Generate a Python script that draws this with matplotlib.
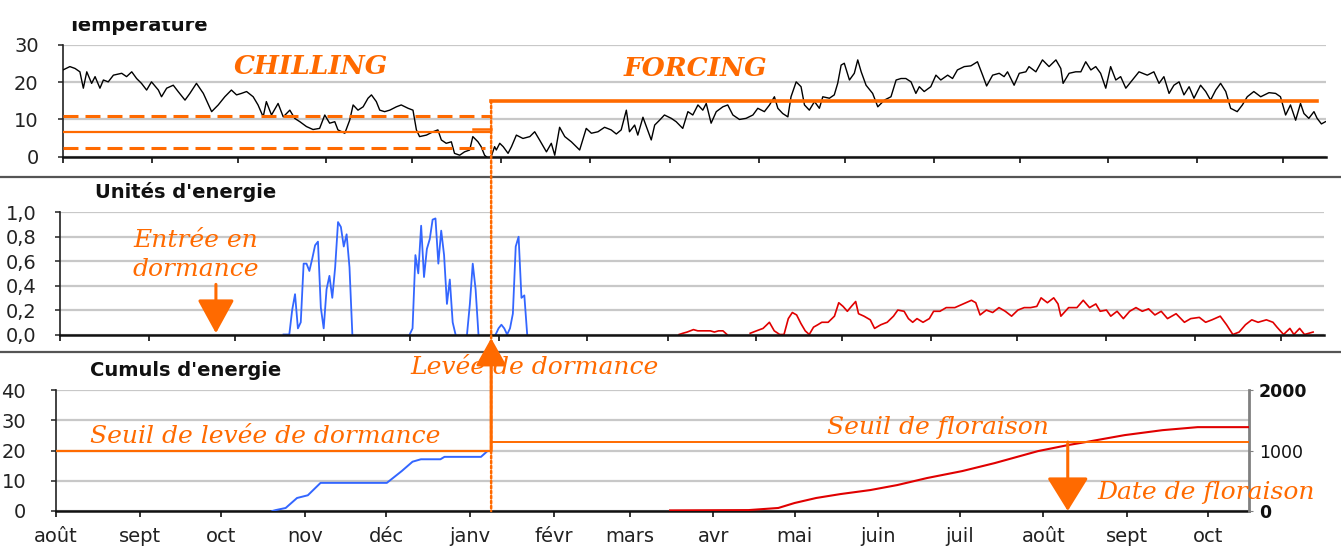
import matplotlib
matplotlib.use('Agg')
import matplotlib.pyplot as plt
import matplotlib.transforms as mtransforms
from matplotlib.patches import ConnectionPatch
from matplotlib.lines import Line2D
from matplotlib.ticker import FuncFormatter

NAN = float('nan')   # gap marker: breaks a line where the series is absent

# ------------------------------------------------------------------ data
# x axis: days counted from 1 August
month_days = [0, 31, 61, 92, 122, 153, 184, 212, 243, 273, 304, 334, 365, 396, 426]
month_labels = ['août', 'sept', 'oct', 'nov', 'déc', 'janv', 'févr', 'mars',
                'avr', 'mai', 'juin', 'juil', 'août', 'sept', 'oct']
x_end = 441

# daily temperature (°C)
temp_day = [0, 2.4, 4.2, 5.9, 7.1, 8.3, 10, 11.2, 12.9, 14.1, 15.8, 17.6, 20.5, 22.2, 24,
            25.7, 27.4, 29.2, 30.9, 33.3, 34.4, 36.2, 38.5, 40.2, 42.6, 44.3, 46.6, 49,
            51.9, 54.2, 56.5, 58.8, 60.6, 62.3, 64.1, 66.4, 68.1, 69.9, 71, 72.8, 75.1,
            76.9, 79.2, 80.9, 82.7, 85, 87.3, 89.6, 91.4, 93.1, 94.9, 96, 98.4, 100.1,
            101.3, 103, 104.8, 106.5, 107.7, 109.4, 110.6, 112.3, 114.1, 116.4, 118.1,
            120.5, 122.2, 123.4, 124.5, 126.9, 129.2, 130.9, 132.1, 133.8, 135.6, 136.7,
            138.5, 140.2, 142, 143.1, 144.9, 146, 147.2, 148.4, 149.5, 150.7,
            151.3, 152.5, 153.7, 155.4, 156.6, 158.3, 160.6, 163, 164.7, 166.4, 168.8,
            170.5, 171.7, 173.4, 175.2, 177.5, 180.4, 182.7, 184.5, 186.8, 189.1, 191.4,
            193.2, 194.9, 196.7, 197.8, 199.6, 200.7, 202.5, 203.7, 205.4, 206.6, 208.3,
            210, 212.4, 214.1, 216.4, 218.2, 219.9, 221.7, 223.4, 224.6, 226.3, 228.1,
            230.4, 232.1, 233.9, 236.2, 238.5, 240.9, 242.6, 244.9, 246.7, 248.4, 249.6,
            251.3, 253.1, 254.2, 256, 257.7, 258.9, 260.6, 262.4, 264.1, 265.3, 267.6,
            269.3, 270.5, 271.7, 272.8, 274.6, 276.3, 277.5, 278.7, 280.4, 282.7, 284.5,
            286.8, 289.1, 290.9, 292.6,
            294.3, 296.1, 297.8, 299, 300.7, 303, 304.8, 306.5, 308.9, 310.6, 312.3,
            314.7, 317, 319.3, 321.1, 322.5, 324.6, 326.9, 328.6, 329.8, 332.1, 333.9,
            336.2, 337.3, 339.7, 342, 344.3, 346.7, 348.4, 349.2, 351.3, 353.6, 355.4,
            357.1, 358.9, 360.6, 362.3, 364.1, 365.8, 367.6, 369.3, 371.1, 373.4, 375.7,
            378.6, 380.9, 382.7, 384.4, 386.2, 387.9, 389.7, 391.4, 393.2, 394.9, 397.2,
            399, 400.7, 402.5, 404.2, 406, 407.7, 410, 411.8, 413.5, 415.8, 418.2, 421.1,
            423.4, 425.1, 426.9, 428.6, 430.4, 432.1, 433.3, 435, 436.8, 437.9, 439.4, 440.8]
temp_val = [23.3, 24.2, 23.7, 22.8, 18.4, 22.8, 19.7, 21.5, 18.4, 20.6, 20.1, 21.9, 22.4, 21.5, 22.8,
            21, 19.7, 17.9, 20.1, 17.9, 16.1, 18.4, 19.2, 17.5, 15.2, 17, 19.7, 17,
            12.1, 13.9, 16.1, 17.9, 16.6, 17, 17.5, 16.1, 13.9, 10.7, 14.8, 11.2, 14.3,
            10.7, 12.5, 10.3, 9.4, 8.1, 7.3, 7.6, 11.2, 9, 9.4, 7.2, 6.3, 9.8,
            13.9, 12.5, 13.4, 15.7, 16.6, 14.8, 12.5, 12.1, 12.5, 13.4, 13.9,
            13, 12.5, 7.2, 5.4, 5.8, 6.7, 7.2, 4.5, 3.6, 4, 0.9,
            0.4, 1.3, 1.8, 5.4, 4, 2.7, 0.4, -0.4, 0, 2.7,
            1.8, 3.6, 2.7, 0.9, 2.7, 5.8, 4.9, 5.4, 6.7, 4.5, 1.3,
            3.6, 0.4, 7.9, 5.4, 4, 1.8, 7.6, 6.3, 6.7, 7.9, 7.2,
            6.1, 7.2, 12.5, 6.7, 8.5, 5.8, 10.6, 8.1, 4.5, 8.5, 9.8,
            11.2, 10.3, 9.4, 7.6, 12.1, 11.2, 13.9, 12.5, 14.3, 9, 12.1,
            13.4, 13.9, 11.2, 10, 10.3, 11.2, 13, 12.1, 13.9, 16.1, 13,
            11.6, 10.7, 16.1, 20.1, 18.8, 13.9, 12.5, 14.8, 13, 16.1, 15.7,
            16.6, 19.7, 24.6, 25.1, 20.6, 22.4, 26, 22.8, 19.2, 17, 13.4,
            15.2, 16.1, 20.6, 21,
            21, 20.1, 17, 18.8, 17.5, 18.8, 21.9, 20.6, 21.9, 21, 23.3,
            24.2, 24.4, 25.5, 21.9, 19, 21.9, 22.4, 21.5, 22.8, 19.2, 22.4,
            22.8, 24.2, 22.8, 26, 24.2, 26, 23.7, 19.7, 22.4, 22.8, 22.8,
            25.5, 23.3, 24.2, 22.4, 18.4, 24.2, 20.6, 21.5, 18.4, 20.6, 22.8,
            21.9, 22.8, 19.7, 21.5, 17, 19.2, 20.1, 16.6, 18.8, 15.7, 19.2,
            17.5, 15.2, 17.9, 19.7, 17.5, 13, 12.1, 13.9, 16.1, 17.5, 16.1, 17.2,
            17, 16.1, 11.2, 13.9, 9.8, 14.3, 11.6, 10.3, 12.1, 10.3, 8.8, 9.4]

# chilling / forcing reference levels (°C)
chill_high = 10.85
chill_low = 2.3
chill_mean = 6.6
chill_mean_end = 7.5
chill_mean_end_start = 143
forcing_mean = 15.0
forcing_end = 438
levee_day = 149.5          # end of chilling, start of forcing

# daily chilling units (blue)
blue_day = [78, 80, 81, 82, 83, 84, 85, 86, 87, 88, 89, 90, 91, 92, 93, 94, 95, 96, 97, 98,
            99, 100, 101, 102, NAN, 122, 123, 124, 125, 126, 127, 128, 129, 130, 131, 132, 133,
            134, 135, 136, 137, 138, NAN, 142, 143, 144, 145, 146, NAN, 152, 153, 154, 155, 156,
            157, 158, 159, 160, 161, 162, 163]
blue_val = [0, 0, 0.2, 0.33, 0.05, 0.1, 0.58, 0.58, 0.52, 0.62, 0.73, 0.76, 0.22, 0.05, 0.37,
            0.48, 0.3, 0.55, 0.92, 0.88, 0.72, 0.82, 0.55, 0, NAN, 0, 0.05, 0.65, 0.5, 0.89, 0.47,
            0.7, 0.78, 0.94, 0.95, 0.58, 0.85, 0.65, 0.25, 0.45, 0.1, 0, NAN, 0, 0.25, 0.58, 0.37,
            0, NAN, 0, 0.05, 0.08, 0.05, 0, 0.05, 0.17, 0.72, 0.8, 0.3, 0.32, 0]

# daily forcing units (red)
red_day = [216, 217.3, 218.8, 221, 222.5, 223.9, 225.4, 226.9, 228.3, 229.8, 231.3, 232.7, NAN,
           240.8, 243, 245.3, 247.5, 249.2, 251.1, 252.6, 254.1, 255.5, 257, 258.5, 260,
           261.4, 262.9, 264.4, 265.8, 268, 270.2, 271.7, 273.2, 274.7, 276.1, 277.6, 278.6,
           280.5, 282.7, 284.2, 286.4, 288.6, 290.8, 292.3, 294.5, 296, 297.5, 299, 301.1,
           303.3, 304.8, 307, 309.2, 312.2, 315.1, 318, 319.5, 321, 323.2, 325.4, 327.6,
           329.8, 332, 334.2, 336.4, 338.6, 340.8, 342.3, 344.5, 346.7, 348.2, 349.2, 351.9,
           354.8, 357, 359.2, 361.4, 362.9, 365.1, 366.6, 368.8, 371, 373.2, 375.4, 377.6,
           379.8, 382, 384.2, 386.4, 389.4, 392.3, 394.5, 397.5, 399.7, 401.9, 404.8, 407,
           409.2, 411.4, 413.6, 415.8, 418, 420.9, 423.2, 424.6, 426.9, 429.1, 430.5, 432.5,
           434.2, 437.2]
red_val = [0, 0.01, 0.02, 0.04, 0.03, 0.03, 0.03, 0.03, 0.02, 0.03, 0.03, 0, NAN,
           0.01, 0.03, 0.05, 0.1, 0.03, 0, 0, 0.13, 0.18, 0.16, 0.09, 0.03,
           0, 0.06, 0.08, 0.1, 0.1, 0.15, 0.26, 0.23, 0.19, 0.23, 0.27, 0.17,
           0.15, 0.12, 0.05, 0.08, 0.1, 0.15, 0.2, 0.19, 0.13, 0.1, 0.13, 0.1,
           0.13, 0.19, 0.19, 0.22, 0.22, 0.25, 0.28, 0.26, 0.16, 0.2, 0.18, 0.22,
           0.19, 0.15, 0.2, 0.22, 0.22, 0.23, 0.3, 0.26, 0.3, 0.25, 0.15, 0.22,
           0.22, 0.28, 0.22, 0.25, 0.19, 0.2, 0.15, 0.19, 0.13, 0.19, 0.22, 0.19,
           0.21, 0.16, 0.19, 0.13, 0.17, 0.1, 0.13, 0.14, 0.1, 0.12, 0.15, 0.08,
           0, 0.02, 0.08, 0.12, 0.1, 0.12, 0.1, 0.06, 0, 0.05, 0, 0.05,
           0, 0.02]

# cumulated chilling units (left axis)
cum_blue_day = [80, 81.2, 84.9, 89.1, 93.1, 97.8, 122.3, 124.7, 127.8, 131.8, 134.9, 142.1,
                143.6, 157.1, 159.1]
cum_blue_val = [0, 0.3, 1.0, 4.3, 5.2, 9.3, 9.3, 11, 13.2, 16.3, 17.1, 17.1, 17.9, 17.9, 19.5]

# cumulated forcing units (right axis)
cum_red_day = [227, 256, 267, 273, 281, 290, 301, 311, 322, 335, 347, 363, 374, 380.5, 395,
               409, 422, 441]
cum_red_val = [10, 15, 50, 132, 215, 280, 346, 429, 545, 660, 792, 990, 1089, 1138, 1254,
               1336, 1386, 1386]

seuil_dormance = 20        # left axis units
seuil_floraison = 1140     # right axis units
floraison_day = 374
entree_day = 54.4

# ------------------------------------------------------------------ style
OR = '#ff6a00'
GRID = '#c8c8c8'
W, H = 1341, 548

fig = plt.figure(figsize=(W / 100, H / 100), dpi=100)
fig.patch.set_facecolor('white')


def rect(l, t, r, b):
    return [l / W, 1 - b / H, (r - l) / W, (b - t) / H]


ax1 = fig.add_axes(rect(63, 45, 1326, 156.7))
ax2 = fig.add_axes(rect(60, 212.3, 1324, 334.5))
ax3 = fig.add_axes(rect(56, 390, 1249, 511))


def style(ax, yticks, pad, labelx=False):
    ax.set_xlim(0, x_end)
    ax.set_xticks(month_days)
    ax.set_yticks(yticks)
    ax.set_ylim(yticks[0], yticks[-1])
    ax.grid(axis='y', color=GRID, lw=1.6)
    ax.grid(axis='x', visible=False)
    ax.set_axisbelow(True)
    for s in ('top', 'right'):
        ax.spines[s].set_visible(False)
    ax.spines['left'].set_color('#222222')
    ax.spines['left'].set_linewidth(1.2)
    ax.spines['bottom'].set_color('#111111')
    ax.spines['bottom'].set_linewidth(1.8)
    ax.tick_params(axis='x', direction='out', length=4.5, width=1.3, color='#222222',
                   labelbottom=labelx, labelsize=14, pad=7)
    ax.tick_params(axis='y', direction='out', length=3.5, width=1.1, color='#222222',
                   pad=pad, labelsize=14, labelcolor='#222222')


style(ax1, [0, 10, 20, 30], 14)
style(ax2, [0, 0.2, 0.4, 0.6, 0.8, 1.0], 13.5)
style(ax3, [0, 10, 20, 30, 40], 18, labelx=True)
ax2.yaxis.set_major_formatter(FuncFormatter(lambda v, p: f'{v:.1f}'.replace('.', ',')))
ax3.set_xticklabels(month_labels, color='#222222')

ax3r = ax3.twinx()
ax3r.set_xlim(0, x_end)
ax3r.set_ylim(0, 2000)
ax3r.set_yticks([0, 1000, 2000])
ax3r.set_yticklabels(['0', '1000', '2000'])
for i, lab in enumerate(ax3r.get_yticklabels()):
    lab.set_fontweight('bold' if i != 1 else 'normal')
for s in ('top', 'left', 'bottom'):
    ax3r.spines[s].set_visible(False)
ax3r.spines['right'].set_color('#808080')
ax3r.spines['right'].set_linewidth(2)
ax3r.tick_params(axis='y', length=3, color='#808080', pad=4, labelsize=12.5,
                 labelcolor='#111111')

# ------------------------------------------------------------------ series
ax1.plot(temp_day, temp_val, color='black', lw=1.0, zorder=3)
ax2.plot(blue_day, blue_val, color='#3366ff', lw=1.3, zorder=2)
ax2.plot(red_day, red_val, color='#e00000', lw=1.2, zorder=2)
ax3.plot(cum_blue_day, cum_blue_val, color='#3366ff', lw=1.4, zorder=3)
ax3r.plot(cum_red_day, cum_red_val, color='#e00000', lw=1.5, zorder=3)

# ------------------------------------------------------------------ annotations (top)
ax1.plot([0, levee_day - 0.5], [chill_high, chill_high], color=OR, lw=2.2, dashes=(4.9, 2.3), zorder=4)
ax1.plot([0, levee_day - 2], [chill_low, chill_low], color=OR, lw=2.2, dashes=(4.9, 2.3), zorder=4)
ax1.plot([0, levee_day], [chill_mean, chill_mean], color=OR, lw=1.6, zorder=4)
ax1.plot([chill_mean_end_start, levee_day], [chill_mean_end, chill_mean_end],
         color=OR, lw=1.8, zorder=4)
ax1.plot([levee_day, forcing_end], [forcing_mean, forcing_mean],
         color=OR, lw=2.6, zorder=4, solid_capstyle='projecting')

serif_it = dict(family='DejaVu Serif', style='italic', color=OR)
ax1.text(86.7, 24.1, 'CHILLING', fontsize=19, fontweight='bold', ha='center', va='center', **serif_it)
ax1.text(221, 23.8, 'FORCING', fontsize=19, fontweight='bold', ha='center', va='center', **serif_it)

# ------------------------------------------------------------------ annotations (middle)
ax2.text(47.5, 0.77, 'Entrée en', fontsize=18, ha='center', va='center', **serif_it)
ax2.text(47.5, 0.53, 'dormance', fontsize=18, ha='center', va='center', **serif_it)
ax2.annotate('', xy=(entree_day, 0.01), xytext=(entree_day, 0.41),
             arrowprops=dict(arrowstyle='-|>,head_length=21,head_width=11.5', mutation_scale=1,
                             lw=2.2, color=OR, shrinkA=0, shrinkB=0))

# ------------------------------------------------------------------ annotations (bottom)
x_disp = ax1.transData.transform((levee_day, 0))[0]
levee_bottom = ax3.transData.inverted().transform((x_disp, 0))[0]

ax3.plot([0, levee_bottom], [seuil_dormance, seuil_dormance], color=OR, lw=1.6, zorder=4)
ax3r.plot([levee_bottom, x_end], [seuil_floraison, seuil_floraison], color=OR, lw=1.4, zorder=4)
ax3.text(77.3, 24.5, 'Seuil de levée de dormance', fontsize=18, ha='center', va='center', **serif_it)
ax3.text(177, 47.3, 'Levée de dormance', fontsize=18, ha='center', va='center', **serif_it)
ax3r.text(326, 1388, 'Seuil de floraison', fontsize=18, ha='center', va='center', **serif_it)
ax3r.text(425, 300, 'Date de floraison', fontsize=18, ha='center', va='center', **serif_it)
ax3r.annotate('', xy=(floraison_day, 0), xytext=(floraison_day, seuil_floraison),
              arrowprops=dict(arrowstyle='-|>,head_length=21,head_width=13', mutation_scale=1,
                              lw=2.2, color=OR, shrinkA=0, shrinkB=0))

# vertical dotted line through the three panels at the end of dormancy
bl_top3 = mtransforms.blended_transform_factory(ax1.transData, ax3.transData)
bl_top2 = mtransforms.blended_transform_factory(ax1.transData, ax2.transData)
dot = ConnectionPatch(xyA=(levee_day, forcing_mean), coordsA=ax1.transData,
                      xyB=(levee_day, 0), coordsB=bl_top3,
                      color=OR, lw=1.8, linestyle=(0, (1, 1)), zorder=5)
fig.add_artist(dot)
arr = ConnectionPatch(xyA=(levee_day, seuil_dormance), coordsA=bl_top3,
                      xyB=(levee_day, -0.03), coordsB=bl_top2,
                      arrowstyle='-|>,head_length=17,head_width=9.5', mutation_scale=1,
                      color=OR, lw=2.2, shrinkA=0, shrinkB=0, zorder=6)
fig.add_artist(arr)

# ------------------------------------------------------------------ titles & separators
t = fig.text(68 / W, 1 - 31 / H, 'Temperature', fontsize=14, fontweight='bold',
             ha='left', va='baseline', color='#111111')
t.set_clip_box(mtransforms.TransformedBbox(mtransforms.Bbox([[0, 0], [W, H - 21]]),
                                           mtransforms.IdentityTransform()))
t.set_clip_on(True)
ax2.text(0.0277, 1.166, "Unités d'energie", transform=ax2.transAxes, fontsize=14,
         fontweight='bold', ha='left', va='center', color='#111111')
ax3.text(0.0285, 1.165, "Cumuls d'energie", transform=ax3.transAxes, fontsize=14,
         fontweight='bold', ha='left', va='center', color='#111111')

for ypix in (177, 352):
    fig.add_artist(Line2D([0, 1], [1 - ypix / H, 1 - ypix / H], transform=fig.transFigure,
                          color='#555555', lw=1.6))

fig.savefig('out.png', dpi=100)
